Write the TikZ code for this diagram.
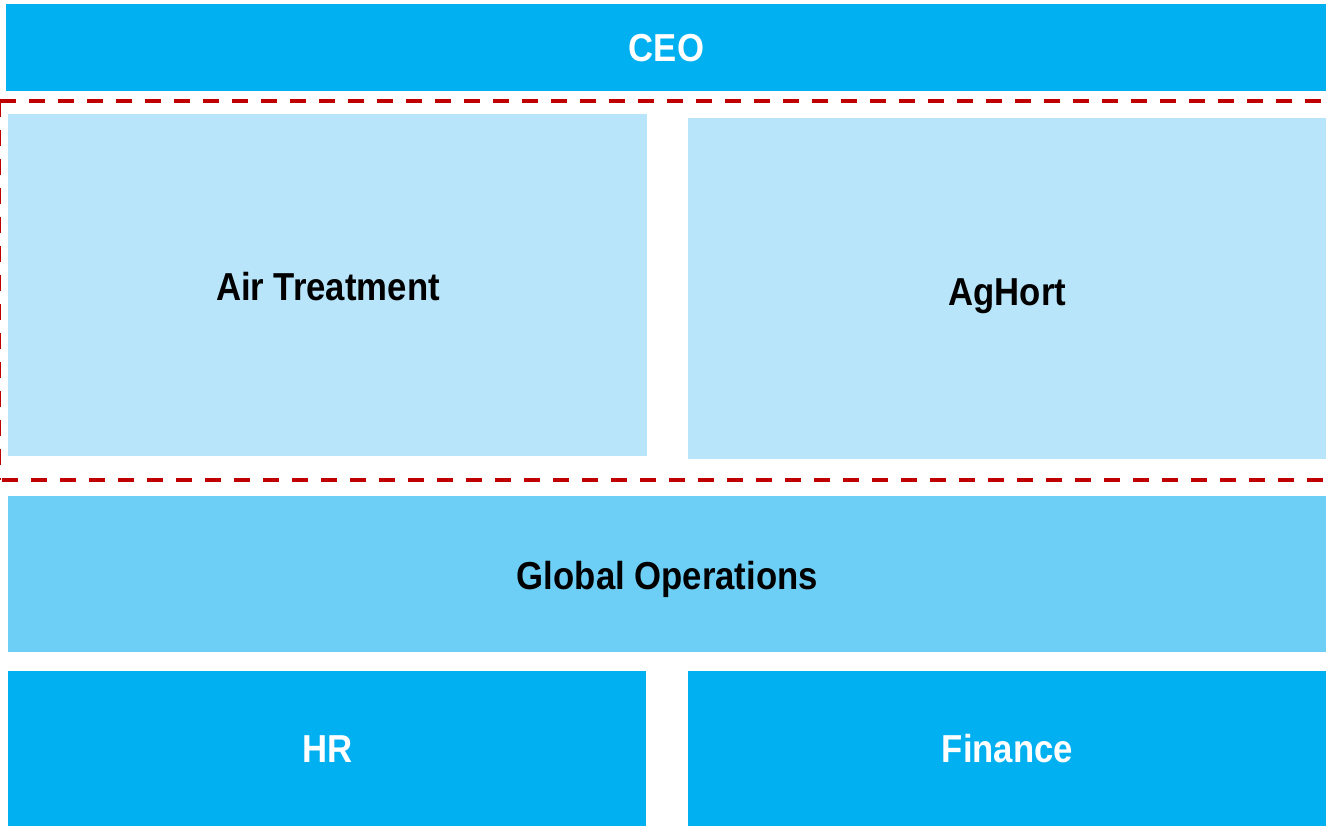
\documentclass[tikz,border=0pt]{standalone}
\usepackage{fontspec}
\setmainfont{Liberation Sans}[FakeStretch=0.89]
\usepackage{xcolor}
\usepackage{tikz}
\usetikzlibrary{positioning}
\definecolor{lead}{HTML}{00B0F0}
\definecolor{ops}{HTML}{6DCFF6}
\definecolor{unit}{HTML}{B8E5F9}
\definecolor{frame}{HTML}{C00000}

\tikzset{
  orgbox/.style={anchor=north west, inner sep=0pt, font=\fontsize{19.5}{22}\selectfont\bfseries},
  topbox/.style={orgbox, fill=lead, text=white},
  midbox/.style={orgbox, fill=ops, text=black},
  unitbox/.style={orgbox, fill=unit, text=black},
  bizline/.style={frame, line width=2pt, dash pattern=on 8pt off 6.5pt}
}

\begin{document}
\begin{tikzpicture}[x=0.5pt, y=-0.5pt]
\useasboundingbox (0,0) rectangle (1332,829);
\clip (0,0) rectangle (1332,829);
% top level
\node[topbox, minimum width=660pt, minimum height=43.5pt] (ceo) at (6,4) {CEO};
% business units
\node[unitbox, minimum width=319.5pt, minimum height=171pt, text depth=0pt] (air) at (8,114) {\raisebox{-1pt}{Air Treatment}};
\node[unitbox, minimum width=319pt, minimum height=170.5pt, text depth=0pt] (aghort) at (688,118) {\raisebox{-3pt}{AgHort}};
% dashed frame round the units
\draw[bizline] (0,101) -- (1340,101);
\draw[bizline, line width=1.4pt] (-0.6,101) -- (-0.6,480);
\draw[bizline] (2,480) -- (1340,480);
% support functions
\node[midbox, minimum width=659pt, minimum height=78pt, text depth=0pt] (ops) at (8,496) {\raisebox{-1pt}{Global Operations}};
\node[topbox, minimum width=319pt, minimum height=77.5pt] (hr) at (8,671) {\raisebox{-0.5pt}{HR}};
\node[topbox, minimum width=319pt, minimum height=77.5pt] (fin) at (688,671) {\raisebox{-1pt}{Finance}};
\end{tikzpicture}
\end{document}
